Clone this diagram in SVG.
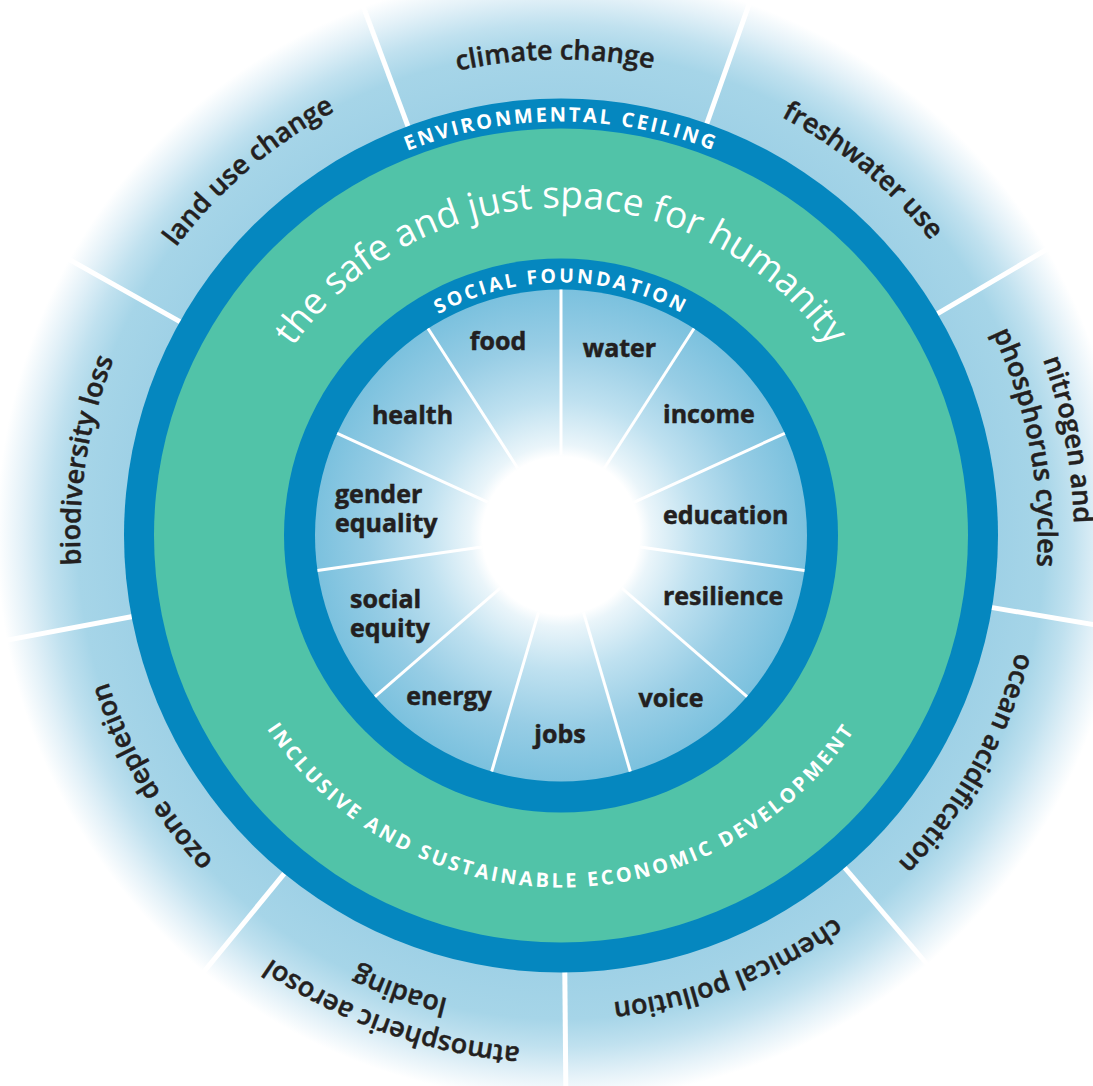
<svg xmlns="http://www.w3.org/2000/svg" width="1093" height="1086" viewBox="0 0 1093 1086">
  <defs>
    <radialGradient id="outerGrad" gradientUnits="userSpaceOnUse" cx="561" cy="535.5" r="620">
      <stop offset="0" stop-color="#9fd1e6"/>
      <stop offset="0.705" stop-color="#9fd1e6"/>
      <stop offset="0.78" stop-color="#a6d5e8"/>
      <stop offset="0.825" stop-color="#c0e1ef"/>
      <stop offset="0.87" stop-color="#e3f1f8"/>
      <stop offset="0.91" stop-color="#ffffff"/>
      <stop offset="1" stop-color="#ffffff"/>
    </radialGradient>
    <radialGradient id="innerGrad" gradientUnits="userSpaceOnUse" cx="561" cy="535.5" r="246">
      <stop offset="0" stop-color="#ffffff"/>
      <stop offset="0.32" stop-color="#ffffff"/>
      <stop offset="0.37" stop-color="#eaf5fa"/>
      <stop offset="0.55" stop-color="#bfe1f0"/>
      <stop offset="0.78" stop-color="#97cde5"/>
      <stop offset="1" stop-color="#7bc1de"/>
    </radialGradient>
    <path id="arcEnv" d="M 147 535.5 A 414 414 0 0 1 975 535.5"/>
    <path id="arcSoc" d="M 308 535.5 A 253 253 0 0 1 814 535.5"/>
    <path id="arcSafe" d="M 233 535.5 A 328 328 0 0 1 889 535.5"/>
    <path id="arcIncl" d="M 209 535.5 A 352 352 0 0 0 913 535.5"/>
    <path id="r470" d="M 91 535.5 A 470 470 0 0 1 1031 535.5"/>
    <path id="r473" d="M 88 535.5 A 473 473 0 0 1 1034 535.5"/>
    <path id="r476" d="M 85 535.5 A 476 476 0 0 1 1037 535.5"/>
    <path id="r477" d="M 84 535.5 A 477 477 0 0 1 1038 535.5"/>
    <path id="r481" d="M 80 535.5 A 481 481 0 0 1 1042 535.5"/>
    <path id="r513" d="M 48 535.5 A 513 513 0 0 1 1074 535.5"/>
  </defs>
  <style>
    .outerLbl { font-family: "Open Sans", "Noto Sans", sans-serif; font-size: 27px; font-weight: 600; fill: #231f20; stroke: #231f20; stroke-width: 0.45px; }
    .innerLbl { font-family: "Open Sans", "Noto Sans", sans-serif; font-size: 25px; font-weight: 700; fill: #231f20; stroke: #231f20; stroke-width: 0.5px; }
    .ringLbl { font-family: "Open Sans", "Noto Sans", sans-serif; font-weight: 700; fill: #ffffff; }
    .safeLbl { font-family: "Open Sans", "Noto Sans", sans-serif; font-size: 37px; font-weight: 400; fill: #ffffff; }
    .divOuter { stroke: #ffffff; stroke-width: 5; }
    .divInner { stroke: #ffffff; stroke-width: 3; }
  </style>

  <rect x="0" y="0" width="1093" height="1086" fill="#ffffff"/>

  <g id="outer-band">
    <circle cx="561" cy="535.5" r="640" fill="url(#outerGrad)"/>
  </g>

  <g id="connectors">
    <g id="outer-dividers" class="divOuter">
      <line x1="706.5" y1="124.5" x2="774.6" y2="-67.8"/>
      <line x1="936.7" y1="314.2" x2="1112.4" y2="210.7"/>
      <line x1="991.0" y1="607.4" x2="1192.2" y2="641.1"/>
      <line x1="844.1" y1="867.0" x2="976.6" y2="1022.2"/>
      <line x1="564.8" y1="971.5" x2="566.6" y2="1175.5"/>
      <line x1="284.8" y1="872.9" x2="155.6" y2="1030.7"/>
      <line x1="132.6" y1="616.5" x2="-67.9" y2="654.3"/>
      <line x1="180.8" y1="322.1" x2="2.9" y2="222.3"/>
      <line x1="408.3" y1="127.1" x2="336.9" y2="-64.0"/>
    </g>
  </g>

  <g id="environmental-ceiling">
    <circle cx="561" cy="535.5" r="437" fill="#0587bf"/>
    <text class="ringLbl" font-size="20" letter-spacing="2.6"><textPath href="#arcEnv" startOffset="50%" text-anchor="middle">ENVIRONMENTAL CEILING</textPath></text>
  </g>

  <g id="safe-space">
    <circle cx="561" cy="535.5" r="407" fill="#51c3a8"/>
    <text class="safeLbl"><textPath href="#arcSafe" startOffset="50%" text-anchor="middle">the safe and just space for humanity</textPath></text>
    <text class="ringLbl" font-size="20" letter-spacing="2.9"><textPath href="#arcIncl" startOffset="50%" text-anchor="middle">INCLUSIVE AND SUSTAINABLE ECONOMIC DEVELOPMENT</textPath></text>
  </g>

  <g id="social-foundation">
    <circle cx="561" cy="535.5" r="277" fill="#0587bf"/>
    <text class="ringLbl" font-size="19.5" letter-spacing="2.8"><textPath href="#arcSoc" startOffset="50%" text-anchor="middle">SOCIAL FOUNDATION</textPath></text>
  </g>

  <g id="social-core">
    <circle cx="561" cy="535.5" r="246" fill="url(#innerGrad)"/>
    <g id="inner-dividers" class="divInner">
      <line x1="561" y1="455.5" x2="561" y2="289.5"/>
      <line x1="604.25" y1="468.2" x2="694" y2="328.5"/>
      <line x1="633.8" y1="502.3" x2="784.8" y2="433.3"/>
      <line x1="640.2" y1="546.9" x2="804.5" y2="570.5"/>
      <line x1="621.5" y1="587.9" x2="747" y2="696.6"/>
      <line x1="583.5" y1="612.3" x2="630.3" y2="771.5"/>
      <line x1="538.5" y1="612.3" x2="491.7" y2="771.5"/>
      <line x1="500.5" y1="587.9" x2="375" y2="696.6"/>
      <line x1="481.8" y1="546.9" x2="317.5" y2="570.5"/>
      <line x1="488.2" y1="502.3" x2="337.2" y2="433.3"/>
      <line x1="517.75" y1="468.2" x2="428" y2="328.5"/>
    </g>
  </g>

  <g id="node-food"><text class="innerLbl" x="498" y="350" text-anchor="middle">food</text></g>
  <g id="node-water"><text class="innerLbl" x="619.5" y="357" text-anchor="middle">water</text></g>
  <g id="node-income"><text class="innerLbl" x="663" y="423">income</text></g>
  <g id="node-education"><text class="innerLbl" x="663" y="524">education</text></g>
  <g id="node-resilience"><text class="innerLbl" x="663" y="605">resilience</text></g>
  <g id="node-voice"><text class="innerLbl" x="671" y="707" text-anchor="middle">voice</text></g>
  <g id="node-jobs"><text class="innerLbl" x="560" y="743" text-anchor="middle">jobs</text></g>
  <g id="node-energy"><text class="innerLbl" x="449" y="705" text-anchor="middle">energy</text></g>
  <g id="node-social-equity"><text class="innerLbl" x="350" y="608">social</text><text class="innerLbl" x="350" y="637">equity</text></g>
  <g id="node-gender-equality"><text class="innerLbl" x="335" y="503">gender</text><text class="innerLbl" x="335" y="532">equality</text></g>
  <g id="node-health"><text class="innerLbl" x="412.5" y="424" text-anchor="middle">health</text></g>

  <g id="node-climate-change"><text class="outerLbl" transform="rotate(-0.7 561 535.5)"><textPath href="#r476" startOffset="50%" text-anchor="middle">climate change</textPath></text></g>
  <g id="node-freshwater-use"><text class="outerLbl" transform="rotate(39.6 561 535.5)"><textPath href="#r473" startOffset="50%" text-anchor="middle">freshwater use</textPath></text></g>
  <g id="node-nitrogen-phosphorus"><text class="outerLbl" transform="rotate(79.3 561 535.5)"><textPath href="#r513" startOffset="50%" text-anchor="middle">nitrogen and</textPath></text><text class="outerLbl" transform="rotate(79.3 561 535.5)"><textPath href="#r477" startOffset="50%" text-anchor="middle">phosphorus cycles</textPath></text></g>
  <g id="node-ocean-acidification"><text class="outerLbl" transform="rotate(119.3 561 535.5)"><textPath href="#r470" startOffset="50%" text-anchor="middle">ocean acidification</textPath></text></g>
  <g id="node-chemical-pollution"><text class="outerLbl" transform="rotate(159 561 535.5)"><textPath href="#r470" startOffset="50%" text-anchor="middle">chemical pollution</textPath></text></g>
  <g id="node-atmospheric-aerosol"><text class="outerLbl" transform="rotate(199.5 561 535.5)"><textPath href="#r513" startOffset="50%" text-anchor="middle">atmospheric aerosol</textPath></text><text class="outerLbl" transform="rotate(199.5 561 535.5)"><textPath href="#r477" startOffset="50%" text-anchor="middle">loading</textPath></text></g>
  <g id="node-ozone-depletion"><text class="outerLbl" transform="rotate(239.5 561 535.5)"><textPath href="#r476" startOffset="50%" text-anchor="middle">ozone depletion</textPath></text></g>
  <g id="node-biodiversity-loss"><text class="outerLbl" transform="rotate(279 561 535.5)"><textPath href="#r481" startOffset="50%" text-anchor="middle">biodiversity loss</textPath></text></g>
  <g id="node-land-use-change"><text class="outerLbl" transform="rotate(319.4 561 535.5)"><textPath href="#r481" startOffset="50%" text-anchor="middle">land use change</textPath></text></g>
</svg>
